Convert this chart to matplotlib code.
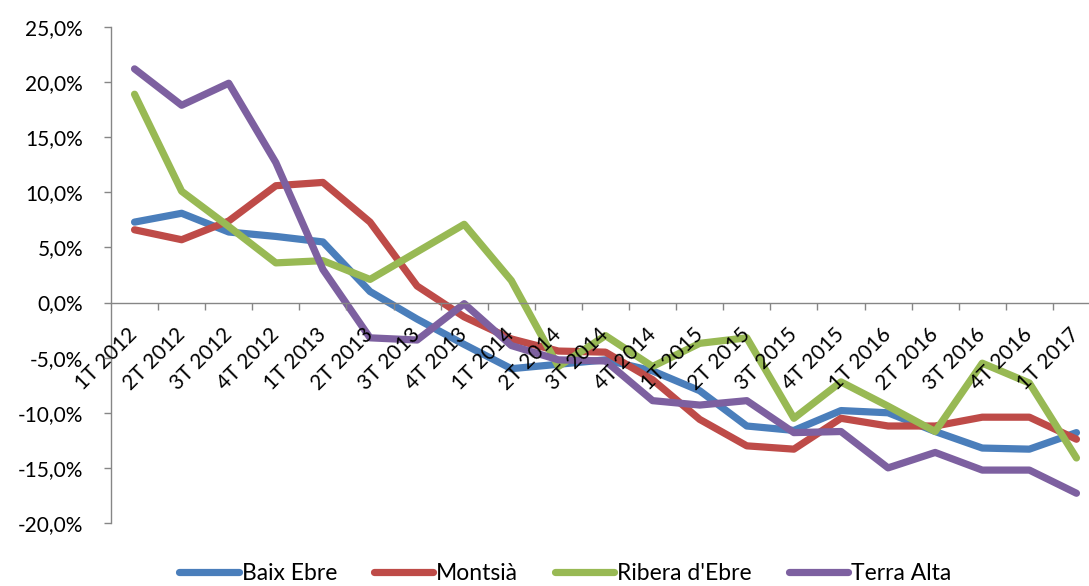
import matplotlib
matplotlib.use("Agg")
import matplotlib.pyplot as plt
from matplotlib.ticker import FuncFormatter, FixedLocator

quarters = ["1T 2012", "2T 2012", "3T 2012", "4T 2012",
            "1T 2013", "2T 2013", "3T 2013", "4T 2013",
            "1T 2014", "2T 2014", "3T 2014", "4T 2014",
            "1T 2015", "2T 2015", "3T 2015", "4T 2015",
            "1T 2016", "2T 2016", "3T 2016", "4T 2016",
            "1T 2017"]

baix_ebre = [7.3, 8.1, 6.4, 6.0, 5.5, 1.0, -1.5, -3.8, -6.0, -5.6, -5.2,
             -6.2, -8.0, -11.2, -11.6, -9.8, -10.0, -11.7, -13.2, -13.3, -11.8]
montsia = [6.6, 5.7, 7.4, 10.6, 10.9, 7.3, 1.5, -1.3, -3.3, -4.4, -4.5,
           -7.0, -10.6, -13.0, -13.3, -10.5, -11.2, -11.2, -10.4, -10.4, -12.4]
ribera_ebre = [18.9, 10.1, 6.9, 3.6, 3.8, 2.1, 4.6, 7.1, 2.0, -5.8, -3.0,
               -5.8, -3.7, -3.2, -10.5, -7.2, -9.4, -11.7, -5.5, -7.3, -14.1]
terra_alta = [21.2, 17.9, 19.9, 12.7, 3.0, -3.2, -3.4, -0.1, -3.9, -5.2, -5.3,
              -8.9, -9.3, -8.9, -11.8, -11.7, -15.0, -13.6, -15.2, -15.2, -17.3]

series_names = ["Baix Ebre", "Montsià", "Ribera d'Ebre", "Terra Alta"]
series_values = [baix_ebre, montsia, ribera_ebre, terra_alta]
colors = ["#4A7EBB", "#BE4B48", "#98B954", "#7D60A0"]

plt.rcParams["font.family"] = ["Lato", "DejaVu Sans"]

fig = plt.figure(figsize=(10.89, 5.86), dpi=100)
ax = fig.add_axes([111 / 1089, 63 / 586, 989 / 1089, 496 / 586])
ax.set_axisbelow(False)

x = list(range(len(quarters)))
for name, vals, c in zip(series_names, series_values, colors):
    ax.plot(x, vals, color=c, lw=5.2, label=name, zorder=2,
            solid_capstyle="round", solid_joinstyle="round")

ax.set_xlim(-0.5, len(quarters) - 0.5)
ax.set_ylim(-20, 25)
ax.set_yticks(range(-20, 26, 5))
ax.yaxis.set_major_formatter(FuncFormatter(lambda v, p: f"{v:.1f}%".replace(".", ",")))

grey = "#868686"
for s in ["top", "right"]:
    ax.spines[s].set_visible(False)
ax.spines["left"].set_color(grey)
ax.spines["bottom"].set_color(grey)
ax.spines["left"].set_linewidth(1.0)
ax.spines["bottom"].set_linewidth(1.0)
ax.spines["bottom"].set_position(("data", 0))

ax.tick_params(axis="y", direction="out", length=5, width=1, color=grey,
               labelsize=15, pad=15, labelcolor="black")
ax.set_xticks(x)
ax.set_xticklabels(quarters, rotation=45, ha="right", va="center",
                   rotation_mode="anchor", fontsize=15)
ax.tick_params(axis="x", which="major", length=0, pad=21)
ax.xaxis.set_minor_locator(FixedLocator([i + 0.5 for i in range(len(quarters))]))
ax.tick_params(axis="x", which="minor", direction="out", length=5, width=1, color=grey)

handles, labels = ax.get_legend_handles_labels()
fig.legend(handles, labels, loc="center", bbox_to_anchor=(0.519, 0.022),
           ncol=4, frameon=False, fontsize=16.5, handlelength=2.6,
           handletextpad=0.13, columnspacing=1.6, borderpad=0.2)

fig.savefig("out.png", dpi=100)
